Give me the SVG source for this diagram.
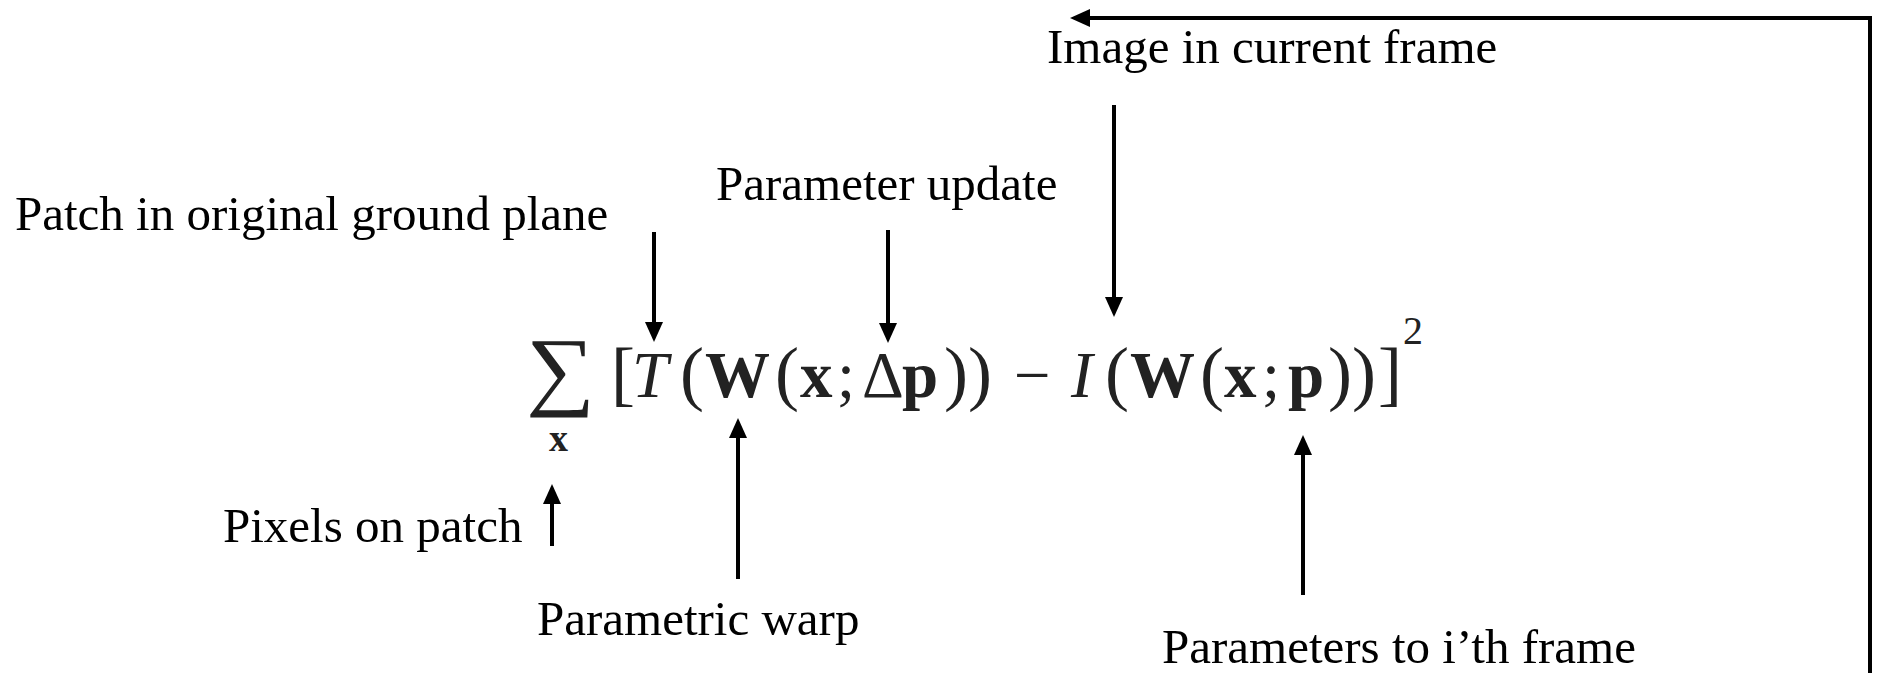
<svg xmlns="http://www.w3.org/2000/svg" width="1879" height="673" viewBox="0 0 1879 673">
  <style>
    .lbl { font-family: "Liberation Serif", "Times New Roman", serif; font-size: 49px; fill: #000; }
    .m { font-family: "Liberation Serif", "Times New Roman", serif; font-size: 65px; fill: #222; }
    .b { font-weight: bold; }
    .i { font-style: italic; }
    .par { font-size: 72px; }
    .conn { fill: none; stroke: #000; stroke-width: 4; marker-end: url(#ah); }
  </style>
  <defs>
    <marker id="ah" markerUnits="userSpaceOnUse" markerWidth="20" markerHeight="18" viewBox="0 0 20 18" refX="10" refY="9" orient="auto">
      <path d="M0,0 L20,9 L0,18 z" fill="#000"/>
    </marker>
  </defs>
  <rect width="1879" height="673" fill="#fff"/>

  <g id="connectors">
    <path class="conn" d="M1870,673 V18 H1080"/>
    <path class="conn" d="M1114,105 V307"/>
    <path class="conn" d="M654,232 V332"/>
    <path class="conn" d="M888,230 V333"/>
    <path class="conn" d="M738,579 V428"/>
    <path class="conn" d="M552,546 V494"/>
    <path class="conn" d="M1303,595 V445"/>
  </g>

  <g id="label-image"><text class="lbl" x="1047" y="63">Image in current frame</text></g>
  <g id="label-patch"><text class="lbl" x="15" y="230">Patch in original ground plane</text></g>
  <g id="label-update"><text class="lbl" x="716" y="200">Parameter update</text></g>
  <g id="label-pixels"><text class="lbl" x="223" y="542">Pixels on patch</text></g>
  <g id="label-warp"><text class="lbl" x="537" y="635">Parametric warp</text></g>
  <g id="label-params"><text class="lbl" x="1162" y="663">Parameters to i’th frame</text></g>

  <g id="formula">
    <text class="m" transform="translate(526,399) scale(1.1,1)" x="0" y="0" style="font-size:88px">∑</text>
    <text class="m b" x="549" y="451" style="font-size:38px">x</text>
    <text class="m" y="397"><tspan class="par" x="611">[</tspan><tspan class="i" x="632">T</tspan><tspan class="par" x="680">(</tspan><tspan class="b" x="705">W</tspan><tspan class="par" x="775">(</tspan><tspan class="b" x="800">x</tspan><tspan x="837">;</tspan><tspan x="862">Δ</tspan><tspan class="b" x="902">p</tspan><tspan class="par" x="944">)</tspan><tspan class="par" x="968">)</tspan><tspan x="1014">−</tspan><tspan class="i" x="1071">I</tspan><tspan class="par" x="1105">(</tspan><tspan class="b" x="1130">W</tspan><tspan class="par" x="1200">(</tspan><tspan class="b" x="1224">x</tspan><tspan x="1262">;</tspan><tspan class="b" x="1288">p</tspan><tspan class="par" x="1328">)</tspan><tspan class="par" x="1352">)</tspan><tspan class="par" x="1378">]</tspan></text>
    <text class="m" x="1403" y="344" style="font-size:40px">2</text>
  </g>
</svg>
